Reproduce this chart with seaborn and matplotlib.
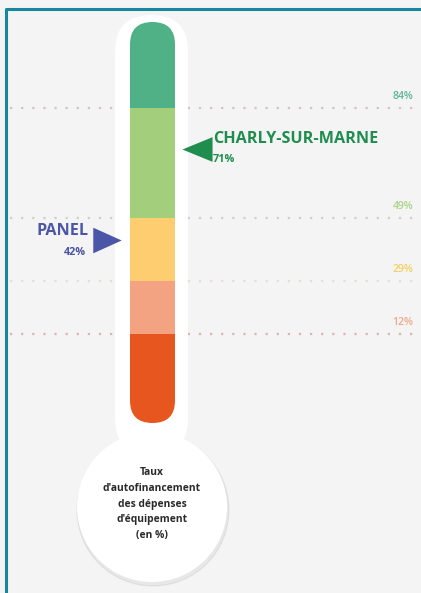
import matplotlib
matplotlib.use("Agg")
import matplotlib.pyplot as plt
from matplotlib.patches import FancyBboxPatch, Circle
from matplotlib.transforms import Affine2D
from matplotlib.path import Path
import seaborn as sns
import pandas as pd

# ---- data ----
thresholds = [12, 29, 49, 84]
threshold_labels = ["12%", "29%", "49%", "84%"]
band_colors = ["#e8561f", "#f4a382", "#fdcd70", "#a3cf7c", "#4fb185"]
label_colors = ["#f0a88a", "#f6cf62", "#a9d488", "#5bb592"]
line_colors = ["#dcb4ae", "#e6ded0", "#cfcfcf", "#d6c4c4"]
markers_names = ["CHARLY-SUR-MARNE", "PANEL"]
markers_values = [71, 42]
markers_labels = ["71%", "42%"]
markers_colors = ["#1f8d4e", "#4c56a6"]
caption = "Taux\nd'autofinancement\ndes dépenses\nd'équipement\n(en %)"

# ---- layout ----
W, H = 421, 593
PX0, PXS = 371.7, 3.139          # pixel row of 0 %, pixels per %
tube_bottom, tube_top = -16.4, 111.4

sns.set_theme(style="white")
plt.rcParams["font.family"] = ["Open Sans", "DejaVu Sans"]

fig = plt.figure(figsize=(W / 100, H / 100), dpi=100, facecolor="#f4f4f4")
ax = fig.add_axes([0, 0, 1, 1])
ax.set_facecolor("#f4f4f4")
ax.set_xlim(0, W)
ax.set_ylim((PX0 - H) / PXS, PX0 / PXS)
ax.axis("off")
px = Affine2D().scale(1 / W, -1 / H).translate(0, 1) + fig.transFigure

# frame (top & left)
fig.add_artist(plt.Line2D([6, 6, W], [H, 9, 9], transform=px, color="#1786a0", lw=2.2))

# dotted reference lines
for t, c in zip(thresholds, line_colors):
    ax.hlines(t, 10, 415, colors=c, linestyles=(0, (1, 4)), lw=1.6, zorder=1)

# labels on the right
for t, lab, c in zip(thresholds, threshold_labels, label_colors):
    ax.annotate(lab, (413, t), xytext=(0, 4), textcoords="offset points",
                ha="right", va="bottom", fontsize=7.5, color=c, fontweight="semibold")

# white outline of the thermometer and bulb
shadow = Circle((153, 510), 76, transform=px, color="#000000", alpha=0.05, zorder=2)
ax.add_patch(shadow)
outline = FancyBboxPatch((115, 15), 73, 440, boxstyle="round,pad=0,rounding_size=36.5",
                         transform=px, facecolor="white", edgecolor="none", zorder=2)
ax.add_patch(outline)
bulb = Circle((152, 507), 75, transform=px, facecolor="white", edgecolor="none", zorder=3)
ax.add_patch(bulb)

# coloured tube bands
clip = FancyBboxPatch((130, 22), 45, 401, boxstyle="round,pad=0,rounding_size=22.5",
                      transform=px, facecolor="none", edgecolor="none")
ax.add_patch(clip)
bounds = [tube_bottom] + thresholds + [tube_top]
bars = ax.bar([152.5] * 5, [bounds[i + 1] - bounds[i] for i in range(5)],
              bottom=bounds[:-1], width=45, color=band_colors, zorder=4, linewidth=0)
for b in bars:
    b.set_clip_path(clip)

# markers
df = pd.DataFrame({"name": markers_names, "value": markers_values,
                   "x": [197, 107]})
left_tri = Path([(-1, 0), (1, 0.82), (1, -0.82), (-1, 0)],
                [Path.MOVETO, Path.LINETO, Path.LINETO, Path.CLOSEPOLY])
right_tri = Path([(1, 0), (-1, 0.9), (-1, -0.9), (1, 0)],
                 [Path.MOVETO, Path.LINETO, Path.LINETO, Path.CLOSEPOLY])
sns.scatterplot(data=df.iloc[[0]], x="x", y="value", marker=left_tri, s=470,
                color=markers_colors[0], linewidth=0, ax=ax, zorder=5, legend=False)
sns.scatterplot(data=df.iloc[[1]], x="x", y="value", marker=right_tri, s=420,
                color=markers_colors[1], linewidth=0, ax=ax, zorder=5, legend=False)

ax.annotate(markers_names[0], (213, markers_values[0]), xytext=(0, 1.5), textcoords="offset points",
            ha="left", va="bottom", fontsize=11.6, fontweight="bold", color=markers_colors[0])
ax.annotate(markers_labels[0], (213, markers_values[0]), xytext=(0, -4), textcoords="offset points",
            ha="left", va="top", fontsize=7.8, fontweight="bold", color=markers_colors[0])
ax.annotate(markers_names[1], (89, markers_values[1]), xytext=(0, 0.5), textcoords="offset points",
            ha="right", va="bottom", fontsize=11.6, fontweight="bold", color=markers_colors[1])
ax.annotate(markers_labels[1], (86, markers_values[1]), xytext=(0, -5), textcoords="offset points",
            ha="right", va="top", fontsize=7.8, fontweight="bold", color=markers_colors[1])

# caption in the bulb
fig.text(152, 504, caption, transform=px, ha="center", va="center", fontsize=7.4,
         fontweight="bold", color="#2a2a2a", linespacing=1.6, zorder=6)

fig.savefig("out.png", dpi=100, facecolor=fig.get_facecolor())
